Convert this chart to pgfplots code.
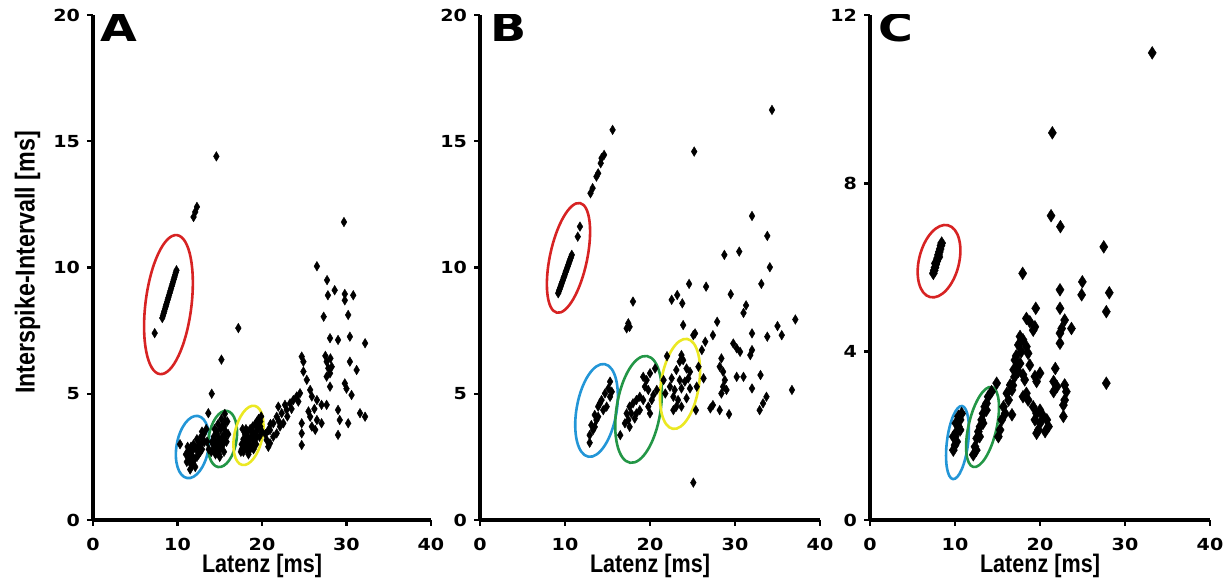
\documentclass[border=0pt]{standalone}
\usepackage{fontspec}
\usepackage{pgfplots}
\pgfplotsset{compat=1.18}
\newfontfamily\tickfam{DejaVu Sans}[FakeStretch=1.15]
\newfontfamily\letfam{DejaVu Sans}[FakeStretch=1.25]
\newfontfamily\labfam{Liberation Sans}[FakeStretch=0.85]
\newcommand\tickfont{\tickfam\bfseries\fontsize{8.3}{9}\selectfont}
\newcommand\letfont{\letfam\bfseries\fontsize{19}{19}\selectfont}
\newcommand\labfont{\labfam\bfseries\fontsize{12.7}{14}\selectfont}
\newcommand\ylabfont{\labfam\bfseries\fontsize{13.7}{15}\selectfont}
\definecolor{ellred}{RGB}{215,35,35}
\definecolor{ellblue}{RGB}{35,150,215}
\definecolor{ellgreen}{RGB}{35,150,70}
\definecolor{ellyellow}{RGB}{235,232,35}
\tikzset{ell/.style={line width=1.3pt}}
\pgfplotsset{
  panel/.style={
    scale only axis, height=252.5pt,
    xmin=0, xmax=40, ymin=0,
    axis lines=left, axis line style={-, line width=1.6pt},
    xtick={0,10,20,30,40}, xticklabels={0,10,20,30,40},
    tick style={line width=1.2pt, black}, major tick length=3pt, tick align=outside,
    tick label style={font=\tickfont},
    xticklabel style={yshift=-2.5pt},
    xlabel={Latenz [ms]},
    xlabel style={font=\labfont, at={(axis description cs:0.5,0)}, anchor=base, yshift=-26.5pt},
  },
  pts/.style={only marks, mark=diamond*, mark size=2.4pt,
    mark options={xscale=0.8, fill=black, draw=black, line width=0.2pt}},
  ptsC/.style={only marks, mark=diamond*, mark size=3.2pt,
    mark options={xscale=0.85, fill=black, draw=black, line width=0.2pt}},
}
\begin{document}
\begin{tikzpicture}
% ---------------- Panel A ----------------
\begin{axis}[panel, at={(46.5pt,30.5pt)}, anchor=south west, width=169pt,
  ymax=20, ytick={0,5,10,15,20}, yticklabels={0,5,10,15,20},
  ylabel={Interspike-Intervall [ms]},
  ylabel style={font=\ylabfont, at={(axis description cs:-0.194,0.51)}, anchor=center}]
\addplot[pts] coordinates {
(8.2,8.0)(8.28,8.09)(8.36,8.18)(8.44,8.27)(8.52,8.36)(8.6,8.45)(8.68,8.54)(8.76,8.63)(8.84,8.72)(8.92,8.81)(9.0,8.9)(9.08,8.99)(9.16,9.08)(9.24,9.17)(9.32,9.26)(9.4,9.35)(9.48,9.44)(9.56,9.53)(9.64,9.62)(9.72,9.71)(9.8,9.8)(9.88,9.89)(7.3,7.4)
(11.9,12.0)(12.1,12.2)(12.3,12.4)(14.6,14.4)(29.7,11.8)(17.2,7.6)(15.2,6.35)(14.05,5.0)(13.65,4.23)
(26.5,10.05)(27.7,9.5)(28.6,9.1)(27.8,8.9)(29.8,8.95)(30.8,8.9)(29.8,8.7)(27.3,8.05)(30.2,8.12)(28.05,7.2)(29.0,7.13)(30.4,7.26)(32.2,7.0)(24.7,6.47)(24.9,6.27)(27.65,6.27)(27.85,6.01)(28.05,5.81)(27.65,5.68)(28.25,6.07)(27.5,6.5)(28.1,6.4)(30.4,6.27)(31.2,5.94)(24.9,5.88)(25.3,5.55)(28.05,5.28)(29.8,5.41)(30.0,5.2)(30.6,4.95)(25.7,5.15)(25.9,4.89)(26.5,4.75)(27.05,4.56)(27.65,4.56)(29.0,4.36)(29.2,3.96)(30.2,3.83)(31.6,4.23)(32.2,4.09)(29.0,3.37)(24.7,3.83)(24.7,3.43)(24.7,2.97)(25.7,4.09)(25.9,3.7)(26.3,3.57)(26.5,3.96)(27.05,3.83)(26.2,4.4)(25.5,4.3)
(20.95,3.56)(21.34,3.83)(21.74,4.09)(21.93,4.49)(22.33,4.23)(22.72,4.56)(22.92,4.36)(23.32,4.62)(23.71,4.75)(24.1,4.89)(24.3,4.69)(24.5,5.02)(21.34,3.3)(21.74,3.43)(22.13,3.7)(20.95,3.04)(20.75,2.9)(22.53,3.83)(20.4,3.4)(20.55,3.17)(20.75,3.56)(23.0,4.1)(23.5,4.4)(21.0,3.8)(22.0,3.9)
(17.5,2.7)(17.6,3.0)(17.8,3.2)(17.9,2.9)(18.0,3.4)(18.1,3.1)(18.2,2.8)(18.3,3.5)(18.4,3.2)(18.5,3.0)(18.6,3.6)(18.7,3.3)(18.8,2.9)(18.9,3.7)(19.0,3.4)(19.1,3.1)(19.2,3.8)(19.3,3.5)(19.4,3.9)(19.5,3.6)(19.6,4.0)(19.7,3.3)(19.8,3.7)(19.9,4.1)(20.0,3.5)(18.4,2.6)(17.7,3.6)(19.0,2.8)
(17.6,2.8)(17.8,2.7)(18.0,3.0)(18.2,3.3)(18.4,3.0)(18.6,3.2)(18.8,3.5)(19.0,3.2)(19.2,3.4)(19.4,3.3)(19.6,3.7)(19.8,3.9)(18.6,2.8)(19.3,3.0)(18.1,3.6)
(14.0,2.7)(14.2,3.0)(14.3,3.3)(14.5,2.6)(14.6,3.5)(14.7,3.0)(14.8,3.8)(14.9,3.2)(15.0,2.8)(15.1,3.6)(15.2,4.0)(15.3,3.3)(15.4,3.0)(15.5,3.7)(15.6,4.2)(15.7,3.5)(15.8,3.1)(15.9,3.9)(16.0,3.4)(15.0,2.5)(14.4,3.6)(15.5,2.7)
(14.1,3.1)(14.3,2.8)(14.5,3.1)(14.7,3.4)(14.9,2.6)(15.1,3.1)(15.3,3.7)(15.5,3.3)(15.7,3.9)(15.2,2.9)(14.8,2.9)(15.6,3.2)(14.6,2.8)
(10.3,3.0)(11.0,2.6)(11.2,2.9)(11.4,2.5)(11.6,2.2)(11.7,2.7)(11.9,3.0)(12.0,2.4)(12.2,2.8)(12.3,3.2)(12.5,2.6)(12.6,3.0)(12.8,3.3)(12.9,2.8)(13.1,3.4)(13.2,3.1)(11.5,2.0)(12.1,2.1)(13.4,3.6)(13.5,3.1)(13.7,2.8)
(11.1,2.3)(11.3,2.75)(11.5,2.4)(11.8,2.5)(12.0,2.9)(12.4,2.9)(12.7,2.7)(13.0,3.1)(11.8,2.2)(12.3,2.5)(12.9,3.5)(11.6,2.9)
};
\draw[ell, ellred, rotate around={-7:(axis cs:8.93,8.53)}] (axis cs:8.93,8.53) ellipse [x radius=11.5pt, y radius=35pt];
\draw[ell, ellblue, rotate around={-10:(axis cs:11.78,2.89)}] (axis cs:11.78,2.89) ellipse [x radius=8pt, y radius=15.75pt];
\draw[ell, ellgreen, rotate around={-9:(axis cs:15.33,3.21)}] (axis cs:15.33,3.21) ellipse [x radius=7pt, y radius=14.2pt];
\draw[ell, ellyellow, rotate around={-12:(axis cs:18.4,3.35)}] (axis cs:18.4,3.35) ellipse [x radius=7pt, y radius=15.1pt];
\node[anchor=north west, inner sep=0pt, xshift=3.5pt, yshift=1pt] at (rel axis cs:0,1) {\letfont A};
\end{axis}
% ---------------- Panel B ----------------
\begin{axis}[panel, at={(240pt,30.5pt)}, anchor=south west, width=170pt,
  ymax=20, ytick={0,5,10,15,20}, yticklabels={0,5,10,15,20}]
\addplot[pts] coordinates {
(9.2,8.98)(9.28,9.06)(9.36,9.13)(9.44,9.21)(9.52,9.28)(9.6,9.36)(9.68,9.44)(9.76,9.51)(9.84,9.59)(9.92,9.66)(10.0,9.74)(10.08,9.82)(10.16,9.89)(10.24,9.97)(10.32,10.04)(10.4,10.12)(10.48,10.2)(10.56,10.27)(10.64,10.35)(10.72,10.42)(10.8,10.5)
(11.5,11.22)(11.76,11.62)(13.0,12.94)(13.25,13.14)(13.7,13.6)(13.9,13.73)(14.2,14.13)(14.3,14.33)(14.6,14.46)(15.6,15.45)
(25.2,14.59)(34.35,16.24)(32.0,12.04)(33.8,11.25)(28.75,10.5)(30.5,10.63)(34.1,10.01)(24.6,9.35)(26.6,9.24)(33.1,9.35)(29.5,8.94)(18.0,8.65)(22.55,8.72)(23.2,8.91)(23.8,8.58)(31.3,8.5)(31.0,8.2)(17.45,7.79)(17.25,7.59)(17.6,7.65)(23.9,7.72)(27.9,7.85)(37.1,7.94)(32.0,7.39)(35.0,7.68)(35.5,7.32)(33.8,7.26)(25.3,7.39)(25.1,7.32)(26.5,7.06)(27.4,7.32)(26.1,6.73)(29.8,6.99)(30.2,6.8)(30.6,6.66)(32.0,6.73)(31.8,6.53)(28.4,6.4)(28.2,6.07)(28.6,5.87)(28.8,5.54)(28.6,5.28)(29.0,5.15)(28.4,5.01)(30.2,5.67)(31.0,5.67)(33.0,5.74)(32.0,5.21)(36.7,5.15)(33.7,4.88)(33.3,4.62)(32.9,4.35)(26.3,5.61)(25.4,4.35)(27.1,4.42)(27.4,4.55)(28.2,4.35)(29.3,4.19)(25.1,1.48)
(22.0,6.49)(23.7,6.53)(23.9,6.33)(23.5,6.27)(23.1,5.94)(24.3,6.0)(24.7,5.87)(22.55,5.61)(23.5,5.54)(24.1,5.48)(24.5,5.61)(22.35,5.28)(22.9,5.15)(23.7,5.21)(24.7,5.21)(22.75,4.88)(23.3,4.75)(24.3,4.82)(23.1,4.49)(22.75,4.35)(23.7,4.49)(21.6,5.54)(21.8,5.01)(25.5,5.28)(25.7,6.07)
(20.6,6.0)(20.0,5.81)(19.6,5.54)(19.4,5.28)(19.8,5.15)(20.8,5.15)(18.8,4.88)(19.2,4.75)(20.2,4.75)(19.8,4.49)(18.4,4.75)(18.0,4.62)(17.6,4.49)(17.8,4.22)(17.25,4.22)(18.2,4.02)(17.45,3.96)(17.6,3.69)(17.05,3.83)(18.8,4.35)(18.4,4.22)(20.0,4.22)(16.5,3.36)(20.4,4.95)(19.2,5.67)
(15.3,5.48)(15.1,5.21)(14.7,5.01)(14.3,4.75)(15.3,4.88)(13.9,4.49)(14.5,4.35)(13.5,4.16)(13.7,3.96)(13.1,3.76)(13.3,3.56)(12.9,3.36)(12.9,3.06)(14.1,4.62)(14.9,4.49)(13.5,3.69)(13.9,4.09)(15.5,5.08)
};
\draw[ell, ellred, rotate around={-12:(axis cs:10.41,10.38)}] (axis cs:10.41,10.38) ellipse [x radius=9.3pt, y radius=28pt];
\draw[ell, ellblue, rotate around={-10:(axis cs:13.71,4.34)}] (axis cs:13.71,4.34) ellipse [x radius=10pt, y radius=23.5pt];
\draw[ell, ellgreen, rotate around={-9:(axis cs:18.65,4.38)}] (axis cs:18.65,4.38) ellipse [x radius=11pt, y radius=27pt];
\draw[ell, ellyellow, rotate around={-9:(axis cs:23.53,5.39)}] (axis cs:23.53,5.39) ellipse [x radius=9.5pt, y radius=22.75pt];
\node[anchor=north west, inner sep=0pt, xshift=5pt, yshift=1pt] at (rel axis cs:0,1) {\letfont B};
\end{axis}
% ---------------- Panel C ----------------
\begin{axis}[panel, at={(435pt,30.5pt)}, anchor=south west, width=170pt,
  ymax=12, ytick={0,4,8,12}, yticklabels={0,4,8,12}]
\addplot[ptsC] coordinates {
(7.45,5.86)(7.55,5.93)(7.65,6.0)(7.75,6.08)(7.85,6.15)(7.95,6.22)(8.05,6.3)(8.15,6.37)(8.25,6.44)(8.35,6.52)(8.43,6.58)(7.7,6.1)(8.1,6.25)
(33.2,11.1)(21.45,9.2)(21.3,7.23)(22.4,6.97)(27.5,6.49)(17.96,5.86)(22.35,5.47)(22.35,5.03)(24.98,5.66)(24.9,5.35)(28.15,5.4)(27.8,4.95)(19.5,5.03)(18.4,4.79)(18.8,4.71)(19.2,4.51)(19.4,4.59)(22.9,4.75)(22.55,4.55)(22.35,4.44)(23.7,4.55)(22.35,4.2)(17.65,4.36)(18.0,4.28)(17.45,4.16)(18.4,4.12)(17.8,4.0)(18.6,3.96)(17.05,3.8)(17.25,3.64)(17.65,3.72)(17.45,3.53)(16.9,3.57)(18.0,3.45)(18.2,3.33)(18.8,3.68)(19.4,3.41)(20.0,3.49)(19.6,3.29)(21.8,3.6)(21.6,3.29)(22.0,3.17)(21.6,3.05)(22.9,3.21)(23.1,3.05)(22.9,2.85)(22.75,2.73)(22.75,2.46)(14.9,3.25)(27.8,3.25)(16.5,3.21)(16.1,3.01)(16.7,3.09)(16.3,2.85)(15.7,2.69)(15.9,2.53)(15.5,2.38)(15.3,2.14)(15.1,1.98)(16.7,2.5)(18.4,3.01)(18.6,2.85)(18.0,2.93)(19.2,2.69)(19.6,2.53)(19.4,2.38)(20.0,2.3)(19.8,2.14)(20.6,2.1)(21.0,2.22)(20.4,2.46)(20.0,2.61)(20.8,2.38)(19.6,2.06)(17.2,3.9)(17.0,3.4)(16.8,3.2)
(13.9,2.93)(13.7,2.77)(13.5,2.69)(13.3,2.53)(13.14,2.38)(12.94,2.22)(12.75,2.1)(12.55,1.94)(12.35,1.74)(12.15,1.55)(14.3,3.05)(13.7,2.61)(13.3,2.3)(12.9,1.98)(12.5,1.66)
(10.78,2.53)(10.6,2.38)(10.4,2.22)(10.2,2.1)(10.0,1.98)(10.0,1.78)(9.8,1.66)(10.6,2.14)(10.2,1.86)(10.4,2.46)(9.8,1.98)(10.1,2.3)
};
\draw[ell, ellred, rotate around={-14:(axis cs:8.12,6.15)}] (axis cs:8.12,6.15) ellipse [x radius=10pt, y radius=18.5pt];
\draw[ell, ellblue, rotate around={-7:(axis cs:10.29,1.84)}] (axis cs:10.29,1.84) ellipse [x radius=5.3pt, y radius=18.4pt];
\draw[ell, ellgreen, rotate around={-13:(axis cs:13.24,2.21)}] (axis cs:13.24,2.21) ellipse [x radius=7pt, y radius=20.5pt];
\node[anchor=north west, inner sep=0pt, xshift=4pt, yshift=1pt] at (rel axis cs:0,1) {\letfont C};
\end{axis}
\pgfresetboundingbox
\useasboundingbox (0,0) rectangle (614.5pt,290.5pt);
\end{tikzpicture}
\end{document}
